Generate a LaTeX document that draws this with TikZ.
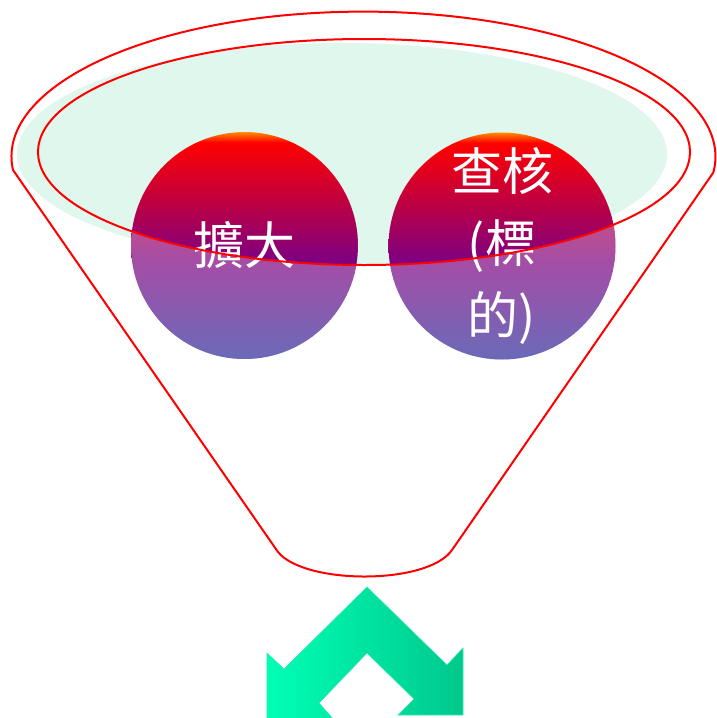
\documentclass[tikz,border=0pt]{standalone}
\usepackage{fontspec}
\newfontfamily\cjk{Noto Sans CJK TC}
\definecolor{cO}{HTML}{FF8C00}
\definecolor{cR}{HTML}{FF0000}
\definecolor{cP}{HTML}{800080}
\definecolor{cB}{HTML}{2A2A9A}
\definecolor{mint}{HTML}{DFF7EC}
\definecolor{funnelred}{HTML}{FF0000}
\definecolor{arrowA}{HTML}{00FFB4}
\definecolor{arrowB}{HTML}{00C88C}
\definecolor{arrowEdge}{HTML}{30E8B8}
\pgfdeclareverticalshading{ballgrad}{100bp}{color(0bp)=(cB); color(25bp)=(cB); color(47bp)=(cP); color(72.7bp)=(cR); color(75bp)=(cO); color(100bp)=(cO)}
\tikzset{
  redline/.style={draw=funnelred, line width=2pt},
  ball/.style={circle, minimum size=227pt, inner sep=0pt, shading=ballgrad, text=white, font=\cjk\fontsize{51}{72}\selectfont, align=center},
  veil/.style={fill=white, fill opacity=0.3, even odd rule},
}
\begin{document}
\begin{tikzpicture}[x=1pt, y=-1pt]
\useasboundingbox (0,0) rectangle (717,718);
% mint shadow ellipse
\fill[mint] (342,154) ellipse [x radius=325, y radius=111];
% balls
\node[ball] (b1) at (244.5,245.5) {擴大};
\node[ball] (b2) at (502,246) {查核\\(標\\的)};
% lighten parts outside inner ellipse
\begin{scope}
  \clip (b1.center) circle (113.5);
  \fill[veil] (b1.center) circle (113.5) (364,152) ellipse [x radius=326, y radius=113];
\end{scope}
\begin{scope}
  \clip (b2.center) circle (113.5);
  \fill[veil] (b2.center) circle (113.5) (364,152) ellipse [x radius=326, y radius=113];
\end{scope}
% inner rim
\coordinate (rim) at (364,152);
\draw[redline] (rim) ellipse [x radius=326, y radius=113];
% funnel outline
\coordinate (lt) at (13,170);
\coordinate (rb) at (452,550);
\coordinate (lb) at (278,552);
\draw[redline, line join=round] (lt) arc[start angle=174.7, end angle=366.3, x radius=352, y radius=145]
  -- (rb) .. controls (428,585) and (305,585) .. (lb) -- cycle;
% double arrow
\shade[left color=arrowA, right color=arrowB, draw=arrowEdge, line width=0.6pt]
  (367,587) -- (447,665) -- (463,648) -- (463,715) -- (398,715) -- (414,699)
  -- (367,653) -- (319,703) -- (334,720) -- (267,720) -- (267,653) -- (284,669) -- cycle;
\end{tikzpicture}
\end{document}
